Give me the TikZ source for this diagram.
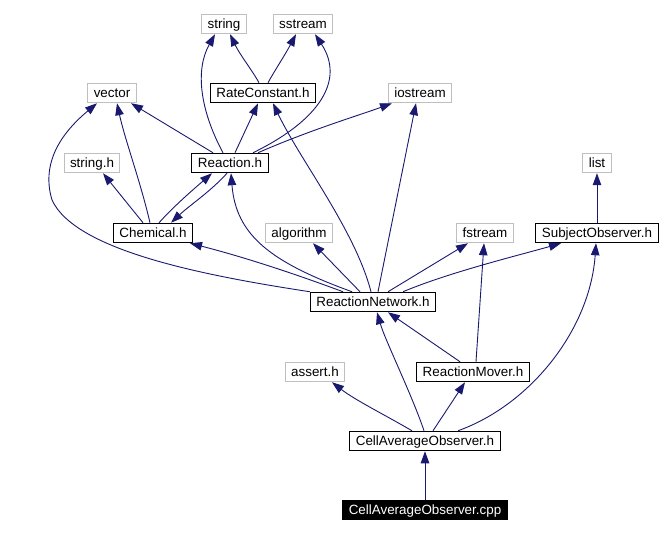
\documentclass[tikz,border=0pt]{standalone}
\usepackage{fontspec}
\setmainfont{Liberation Sans}
\usepackage{xcolor}
\usepackage{tikz}
\usetikzlibrary{arrows.meta}
\definecolor{edgeblue}{HTML}{191970}
\definecolor{sysgray}{HTML}{BFBFBF}
\tikzstyle{header} = [rectangle, draw=black, line width=1pt, minimum height=19.5pt, inner xsep=6pt, inner ysep=0pt, text height=11.5pt, text depth=2pt, font=\fontsize{13.4}{15}\selectfont]
\tikzstyle{syshdr} = [header, draw=sysgray]
\tikzstyle{rootfile} = [header, draw=black, fill=black, text=white]
\tikzstyle{arrow} = [draw=edgeblue, line width=0.9pt, -{Triangle[length=12pt, width=8.5pt, fill=edgeblue]}]

\begin{document}
\begin{tikzpicture}[x=1pt, y=-1pt]
\useasboundingbox (0,0) rectangle (669,534);

% Files
\node (string) [syshdr] at (224,24) {string};
\node (sstream) [syshdr] at (303,24) {sstream};
\node (rc) [header] at (263,93) {RateConstant.h};
\node (vector) [syshdr] at (112,93) {vector};
\node (iostream) [syshdr] at (420,93) {iostream};
\node (stringh) [syshdr] at (92,163) {string.h};
\node (reaction) [header] at (230,163) {Reaction.h};
\node (list) [syshdr] at (597,163) {list};
\node (chem) [header] at (153,233) {Chemical.h};
\node (algorithm) [syshdr] at (299,233) {algorithm};
\node (fstream) [syshdr] at (485,233) {fstream};
\node (so) [header] at (597,233) {SubjectObserver.h};
\node (rn) [header] at (373,302) {ReactionNetwork.h};
\node (assert) [syshdr] at (315,372) {assert.h};
\node (rm) [header] at (473,372) {ReactionMover.h};
\node (cao) [header] at (425,441) {CellAverageObserver.h};
\node (cpp) [rootfile] at (425,510) {CellAverageObserver.cpp};

% Includes of the source file
\draw [arrow] (cpp) -- (cao);
\draw [arrow] ([xshift=-13pt]cao.north) .. controls (385,415) and (355,400) .. ([xshift=17pt]assert.south);
\draw [arrow] ([xshift=-1pt]cao.north) .. controls (412,395) and (385,340) .. ([xshift=4pt]rn.south);
\draw [arrow] ([xshift=8pt]cao.north) -- ([xshift=-8pt]rm.south);
\draw [arrow] ([xshift=33pt]cao.north) .. controls (530,405) and (590,330) .. ([xshift=-1pt]so.south);

\draw [arrow] ([xshift=-13pt]rm.north) -- ([xshift=15pt]rn.south);
\draw [arrow] ([xshift=3pt]rm.north) -- ([xshift=-1pt]fstream.south);

% ReactionNetwork.h
\draw [arrow] (rn.north west) .. controls (200,275) and (75,250) .. (52,200) .. controls (40,160) and (65,130) .. ([xshift=-15pt]vector.south);
\draw [arrow] ([xshift=-30pt]rn.north) .. controls (290,272) and (240,256) .. ([xshift=-3pt]chem.south east);
\draw [arrow] ([xshift=-21pt]rn.north) .. controls (270,262) and (236,235) .. ([xshift=1pt]reaction.south);
\draw [arrow] ([xshift=-13pt]rn.north) -- ([xshift=14pt]algorithm.south);
\draw [arrow] ([xshift=-2pt]rn.north) .. controls (355,230) and (300,160) .. ([xshift=10pt]rc.south);
\draw [arrow] ([xshift=5pt]rn.north) -- ([xshift=-4pt]iostream.south);
\draw [arrow] ([xshift=15pt]rn.north) -- ([xshift=-17pt]fstream.south);
\draw [arrow] ([xshift=30pt]rn.north) .. controls (450,272) and (520,255) .. ([xshift=-36pt]so.south);

\draw [arrow] (so) -- (list);

% Chemical.h
\draw [arrow] ([xshift=-10pt]chem.north) -- ([xshift=11pt]stringh.south);
\draw [arrow] ([xshift=-3pt]chem.north) .. controls (140,180) and (125,140) .. ([xshift=5pt]vector.south);
\draw [arrow] ([xshift=6pt]chem.north) .. controls (175,205) and (195,188) .. ([xshift=-18pt]reaction.south);

% Reaction.h
\draw [arrow] ([xshift=-3pt]reaction.south) .. controls (210,192) and (190,205) .. ([xshift=18pt]chem.north);
\draw [arrow] ([xshift=-17pt]reaction.north) -- ([xshift=19pt]vector.south);
\draw [arrow] ([xshift=-7pt]reaction.north) .. controls (200,110) and (195,70) .. ([xshift=-9pt]string.south);
\draw [arrow] ([xshift=5pt]reaction.north) -- ([xshift=-5pt]rc.south);
\draw [arrow] ([xshift=23pt]reaction.north) .. controls (320,120) and (345,80) .. ([xshift=12pt]sstream.south);
\draw [arrow] ([xshift=28pt]reaction.north) .. controls (310,130) and (360,115) .. ([xshift=-28pt]iostream.south);

% RateConstant.h
\draw [arrow] ([xshift=-4pt]rc.north) .. controls (252,70) and (240,55) .. ([xshift=6pt]string.south);
\draw [arrow] ([xshift=5pt]rc.north) .. controls (275,70) and (285,55) .. ([xshift=-7pt]sstream.south);

\end{tikzpicture}
\end{document}
